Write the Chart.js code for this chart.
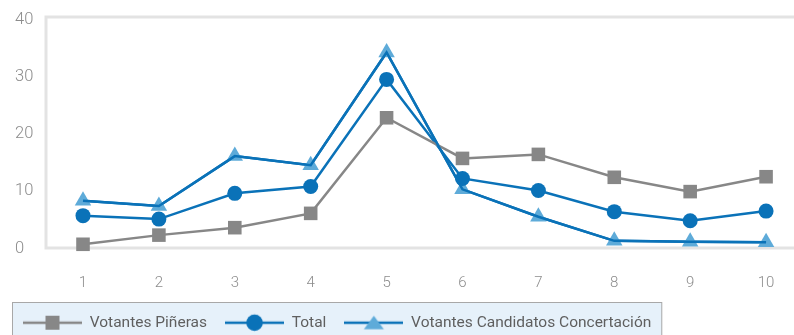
<!DOCTYPE html>
<html>
<head>
<meta charset="utf-8">
<script src="https://cdn.jsdelivr.net/npm/chart.js@4/dist/chart.umd.min.js"></script>
<style>
  html, body { margin: 0; padding: 0; background: #ffffff; }
  #wrap { width: 794px; height: 335px; position: relative; }
</style>
</head>
<body>
<div id="wrap"><canvas id="chart" width="794" height="335"></canvas></div>
<script>
// Categories (x axis) and series values
const categories = [1, 2, 3, 4, 5, 6, 7, 8, 9, 10];
const votantesPineras = [0.3, 1.9, 3.2, 5.7, 22.4, 15.3, 16.0, 12.0, 9.5, 12.1];
const total = [5.3, 4.7, 9.2, 10.4, 29.1, 11.8, 9.7, 6.0, 4.4, 6.1];
const votantesConcertacion = [7.9, 7.0, 15.7, 14.1, 33.8, 9.9, 5.1, 0.9, 0.75, 0.65];
const yTicks = [0, 10, 20, 30, 40];
const seriesNames = ['Votantes Piñeras', 'Total', 'Votantes Candidatos Concertación'];

const GREY = '#878787';
const BLUE = '#0a72b8';
const LIGHT_BLUE = '#5eabd9';
const FRAME = '#e3e3e3';

function toPoints(values) {
  return categories.map((c, i) => ({ x: c, y: values[i] }));
}

// Legend sample: a short line with the series marker in its middle
function legendSample(lineColor, kind, markerColor) {
  const c = document.createElement('canvas');
  c.width = 59; c.height = 20;
  const g = c.getContext('2d');
  g.strokeStyle = lineColor;
  g.lineWidth = 2.5;
  g.beginPath(); g.moveTo(0, 10); g.lineTo(59, 10); g.stroke();
  g.fillStyle = markerColor;
  if (kind === 'rect') {
    g.fillRect(29.5 - 7, 3, 14, 14);
  } else if (kind === 'circle') {
    g.beginPath(); g.arc(29.5, 10, 8.3, 0, Math.PI * 2); g.fill();
  } else {
    g.beginPath(); g.moveTo(29.5, 3); g.lineTo(39.5, 16.5); g.lineTo(19.5, 16.5); g.closePath(); g.fill();
  }
  return c;
}
const samples = [
  legendSample(GREY, 'rect', GREY),
  legendSample(BLUE, 'circle', BLUE),
  legendSample(BLUE, 'triangle', LIGHT_BLUE)
];

// Light frame on the top, left and bottom of the plot area
const framePlugin = {
  id: 'frame',
  beforeDatasetsDraw(chart) {
    const { ctx, chartArea: a } = chart;
    ctx.save();
    ctx.strokeStyle = FRAME;
    ctx.lineWidth = 3;
    ctx.beginPath();
    ctx.moveTo(chart.width, a.top); ctx.lineTo(a.left, a.top);
    ctx.lineTo(a.left, a.bottom); ctx.lineTo(chart.width, a.bottom);
    ctx.stroke();
    ctx.restore();
  },
  // the Concertación line runs over its own triangle markers
  afterDatasetsDraw(chart) {
    const meta = chart.getDatasetMeta(2);
    if (meta && meta.dataset && !meta.hidden) meta.dataset.draw(chart.ctx, chart.chartArea);
  }
};

// Tinted box behind the legend
const legendBoxPlugin = {
  id: 'legendBox',
  beforeDraw(chart) {
    const lg = chart.legend;
    if (!lg || !lg.legendHitBoxes || !lg.legendHitBoxes.length) return;
    const last = lg.legendHitBoxes[lg.legendHitBoxes.length - 1];
    const left = lg.left + 7.5;
    const right = last.left + last.width + 10.5;
    const top = lg.top + 5.5;
    const { ctx } = chart;
    ctx.save();
    ctx.fillStyle = '#e6f1fa';
    ctx.fillRect(left, top, right - left, chart.height - top + 5);
    ctx.strokeStyle = '#a8a8a8';
    ctx.lineWidth = 1;
    ctx.strokeRect(left, top, right - left, chart.height - top + 5);
    ctx.restore();
  }
};

new Chart(document.getElementById('chart'), {
  type: 'line',
  data: {
    datasets: [
      {
        label: seriesNames[0],
        data: toPoints(votantesPineras),
        borderColor: GREY,
        backgroundColor: GREY,
        borderWidth: 2.5,
        pointStyle: 'rect',
        pointRadius: 9.6,
        pointBackgroundColor: GREY,
        pointBorderWidth: 0,
        tension: 0
      },
      {
        label: seriesNames[1],
        data: toPoints(total),
        borderColor: BLUE,
        backgroundColor: BLUE,
        borderWidth: 2.5,
        pointStyle: 'circle',
        pointRadius: 7.5,
        pointBackgroundColor: BLUE,
        pointBorderWidth: 0,
        tension: 0
      },
      {
        label: seriesNames[2],
        data: toPoints(votantesConcertacion),
        borderColor: BLUE,
        backgroundColor: LIGHT_BLUE,
        borderWidth: 2.5,
        pointStyle: 'triangle',
        pointRadius: 9.5,
        pointBackgroundColor: LIGHT_BLUE,
        pointBorderWidth: 0,
        tension: 0
      }
    ]
  },
  options: {
    responsive: false,
    animation: false,
    clip: false,
    layout: { autoPadding: false, padding: { left: 5, top: 17, right: 0, bottom: 0 } },
    scales: {
      x: {
        type: 'linear',
        min: 0.5125,
        max: 10.368,
        grid: { display: false, drawTicks: false },
        border: { display: false },
        afterBuildTicks(axis) { axis.ticks = categories.map(v => ({ value: v })); },
        afterFit(axis) { axis.height = 49; axis.paddingLeft = 0; axis.paddingRight = 0; },
        ticks: {
          padding: 26,
          color: '#8c8c8c',
          font: { family: 'Roboto', size: 15, weight: '300' },
          autoSkip: false,
          maxRotation: 0
        }
      },
      y: {
        min: -0.35,
        max: 40,
        grid: { display: false, drawTicks: false },
        border: { display: false },
        afterBuildTicks(axis) { axis.ticks = yTicks.map(v => ({ value: v })); },
        afterFit(axis) { axis.width = 41; axis.paddingTop = 0; axis.paddingBottom = 0; },
        ticks: {
          mirror: true,
          padding: -31,
          labelOffset: 2.5,
          color: '#8c8c8c',
          font: { family: 'Roboto', size: 16.5, weight: '300' }
        }
      }
    },
    plugins: {
      tooltip: { enabled: false },
      legend: {
        position: 'bottom',
        align: 'start',
        maxHeight: 38,
        labels: {
          usePointStyle: true,
          pointStyleWidth: 59,
          padding: 18,
          color: '#5f5f5f',
          font: { family: 'Roboto', size: 15.5 },
          generateLabels(chart) {
            return chart.data.datasets.map((ds, i) => ({
              text: ds.label,
              pointStyle: samples[i],
              fillStyle: ds.backgroundColor,
              strokeStyle: ds.borderColor,
              lineWidth: 0,
              hidden: !chart.isDatasetVisible(i),
              datasetIndex: i,
              fontColor: '#5f5f5f'
            }));
          }
        }
      }
    }
  },
  plugins: [framePlugin, legendBoxPlugin]
});
</script>
</body>
</html>
